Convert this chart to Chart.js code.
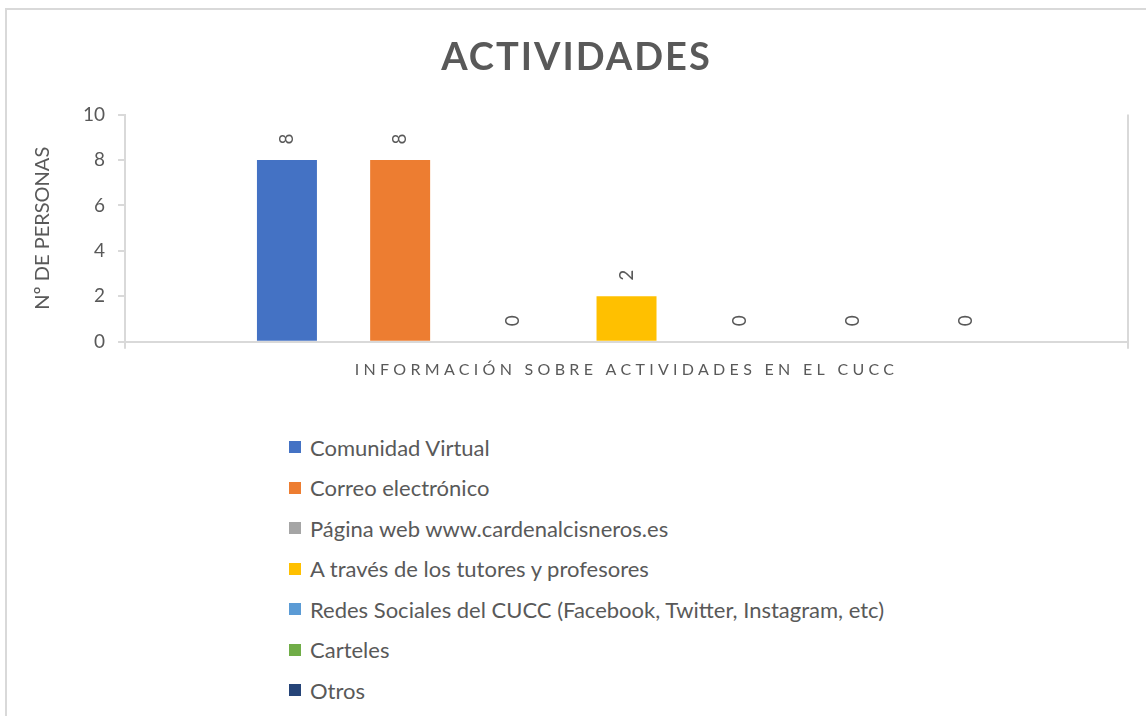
<!DOCTYPE html>
<html>
<head>
<meta charset="utf-8">
<script src="https://cdn.jsdelivr.net/npm/chart.js@4.4.1/dist/chart.umd.min.js"></script>
<style>
  html, body { margin: 0; padding: 0; background: #fff; }
  body { width: 1146px; height: 716px; position: relative; overflow: hidden; font-family: Lato, sans-serif; }
  .frame { position: absolute; left: 5px; top: 8px; width: 1160px; height: 730px; border: 2px solid #d9d9d9; box-sizing: border-box; }
  .chartBox { position: absolute; left: 0; top: 0; width: 1146px; height: 400px; }
  .legend { position: absolute; left: 289px; top: 427px; margin: 0; padding: 0; list-style: none; }
  .legend li { height: 40.5px; display: flex; align-items: center; font-size: 22px; color: #595959; white-space: nowrap; }
  .legend .box { display: inline-block; width: 12px; height: 12px; margin-right: 9px; }
</style>
</head>
<body>
<div class="frame"></div>
<div class="chartBox"><canvas id="actividades" width="1146" height="400"></canvas></div>
<ul class="legend" id="legend"></ul>
<script>
// 데이터
const categories = ["INFORMACIÓN SOBRE ACTIVIDADES EN EL CUCC"];
const seriesNames = [
  "Comunidad Virtual",
  "Correo electrónico",
  "Página web www.cardenalcisneros.es",
  "A través de los tutores y profesores",
  "Redes Sociales del CUCC (Facebook, Twitter, Instagram, etc)",
  "Carteles",
  "Otros",
];
const seriesValues = [8, 8, 0, 2, 0, 0, 0];
const seriesColors = ["#4472C4", "#ED7D31", "#A5A5A5", "#FFC000", "#5B9BD5", "#70AD47", "#264478"];
const yTicks = [0, 2, 4, 6, 8, 10];

const textColor = "#595959";
const lineColor = "#d9d9d9";

// 막대 위 세로 라벨
const barValueLabels = {
  id: "barValueLabels",
  afterDatasetsDraw(chart) {
    const ctx = chart.ctx;
    ctx.save();
    ctx.font = "19px Lato";
    ctx.fillStyle = textColor;
    ctx.textAlign = "center";
    ctx.textBaseline = "middle";
    chart.data.datasets.forEach((ds, i) => {
      chart.getDatasetMeta(i).data.forEach((bar, j) => {
        ctx.save();
        ctx.translate(bar.x, bar.y - 21);
        ctx.rotate(-Math.PI / 2);
        ctx.fillText(String(ds.data[j]), 0, 0);
        ctx.restore();
      });
    });
    ctx.restore();
  },
};

// 자간 (제목, x축 라벨)
function withSpacing(obj, method, spacing) {
  const orig = obj[method];
  obj[method] = function (...args) {
    const c = this.ctx;
    c.save();
    c.letterSpacing = spacing;
    orig.apply(this, args);
    c.restore();
  };
}
const letterSpacing = {
  id: "letterSpacing",
  beforeDraw(chart) {
    const x = chart.scales.x;
    if (x && !x._spaced) {
      withSpacing(x, "drawLabels", "4.3px");
      x._spaced = true;
    }
    const t = chart.titleBlock;
    if (t && !t._spaced) {
      withSpacing(t, "draw", "2px");
      t._spaced = true;
    }
  },
};

function actividades_chart() {
  const ctx = document.getElementById("actividades").getContext("2d");

  const datasets = seriesNames.map((name, i) => ({
    label: name,
    data: [seriesValues[i]],
    backgroundColor: seriesColors[i],
    categoryPercentage: 0.79,
    barPercentage: 0.53,
  }));

  const options = {
    responsive: false,
    animation: false,
    layout: {
      padding: { left: 25, right: 18, top: 0, bottom: 10 },
    },
    scales: {
      x: {
        grid: {
          offset: true,
          color: lineColor,
          lineWidth: 2,
          tickLength: 7,
        },
        border: { color: lineColor, width: 2 },
        ticks: {
          color: textColor,
          padding: 11,
          font: { family: "Lato", size: 16 },
          maxRotation: 0,
        },
      },
      y: {
        min: yTicks[0],
        max: yTicks[yTicks.length - 1],
        grid: {
          drawOnChartArea: false,
          color: lineColor,
          lineWidth: 2,
          tickLength: 7,
        },
        border: { color: lineColor, width: 2 },
        ticks: {
          stepSize: yTicks[1] - yTicks[0],
          color: textColor,
          padding: 13,
          font: { family: "Lato", size: 19 },
        },
        title: {
          display: true,
          text: "Nº DE PERSONAS",
          color: textColor,
          font: { family: "Lato", size: 20 },
          padding: { top: 6, bottom: 15 },
        },
      },
    },
    plugins: {
      legend: { display: false },
      tooltip: { enabled: false },
      title: {
        display: true,
        text: "ACTIVIDADES",
        color: textColor,
        font: { family: "Lato", size: 38, weight: "bold" },
        padding: { top: 35, bottom: 34 },
      },
    },
  };

  new Chart(ctx, {
    type: "bar",
    data: { labels: categories, datasets: datasets },
    options: options,
    plugins: [barValueLabels, letterSpacing],
  });

  // 범례 (HTML)
  const legend = document.getElementById("legend");
  seriesNames.forEach((name, i) => {
    const li = document.createElement("li");
    const box = document.createElement("span");
    box.className = "box";
    box.style.background = seriesColors[i];
    li.appendChild(box);
    li.appendChild(document.createTextNode(name));
    legend.appendChild(li);
  });
}
actividades_chart();
</script>
</body>
</html>
